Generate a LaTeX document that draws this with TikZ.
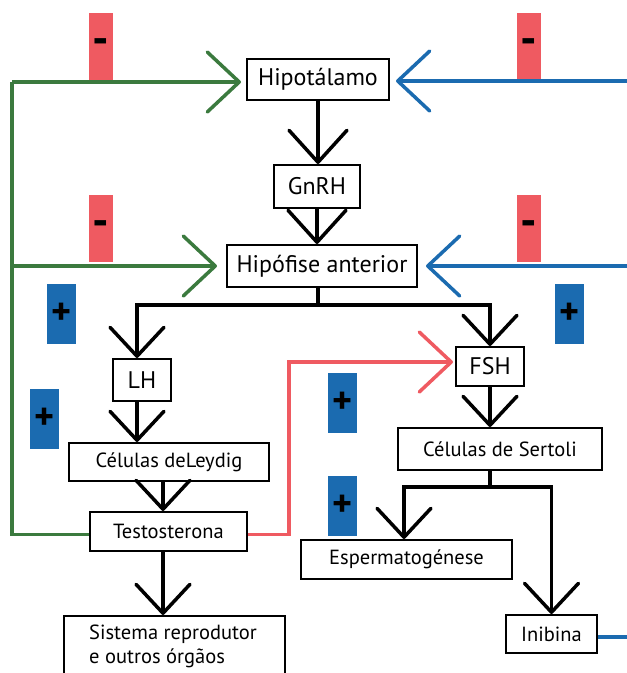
\documentclass[tikz,border=0pt]{standalone}
\usepackage{fontspec}
\setmainfont{PT Sans}
\usetikzlibrary{arrows.meta,positioning}

\definecolor{fbred}{HTML}{EF5A61}
\definecolor{fbblue}{HTML}{1B6BB0}
\definecolor{fbgreen}{HTML}{3B7A3E}

\tikzset{
  box/.style={draw, line width=2pt, inner sep=0pt, font=\fontsize{20.5}{24}\selectfont},
  bigbox/.style={box, font=\fontsize{24}{28}\selectfont},
  flow/.style={line width=3.5pt, -{Straight Barb[length=29pt,width=54pt,round]}},
  bigflow/.style={line width=3.5pt, -{Straight Barb[length=32pt,width=58pt,round]}},
  feedback/.style={line width=3.5pt, -{Straight Barb[length=32pt,width=60pt,round]}},
  minusbox/.style={fill=fbred, minimum width=24pt, minimum height=67pt, inner sep=0pt, font=\fontsize{46}{46}\selectfont\bfseries},
  plusbox/.style={fill=fbblue, minimum width=29pt, minimum height=60pt, inner sep=0pt, font=\fontsize{38}{38}\selectfont\bfseries}
}

\begin{document}
\begin{tikzpicture}[x=1pt,y=-1pt]

\clip (0,0) rectangle (627,673);

% signs
\foreach \x/\y [count=\i] in {101/46.5, 101/228.5, 529/46.5, 529/228.5}
    \node[minusbox] (minus\i) at (\x,\y) {-};
\foreach \x/\y [count=\i] in {61.5/314, 569.5/314, 44.5/418.5, 342.5/403, 342.5/506}
    \node[plusbox] (plus\i) at (\x,\y) {+};

% boxes
\node[bigbox, minimum width=142pt, minimum height=41pt] (hipo) at (318,79.5) {Hipotálamo};
\node[bigbox, minimum width=86pt, minimum height=43pt] (gnrh) at (317,186.5) {GnRH};
\node[bigbox, minimum width=190pt, minimum height=42pt] (hipof) at (322,266) {Hipófise anterior};
\node[bigbox, minimum width=58pt, minimum height=42pt] (lh) at (142,380) {LH};
\node[bigbox, minimum width=68pt, minimum height=39pt] (fsh) at (490,366.5) {FSH};
\node[box, minimum width=200pt, minimum height=38pt] (leydig) at (169,462) {Células deLeydig};
\node[box, minimum width=204pt, minimum height=42pt] (sertoli) at (500,449) {Células de Sertoli};
\node[box, minimum width=157pt, minimum height=39pt] (testo) at (168.5,531.5) {Testosterona};
\node[box, minimum width=211pt, minimum height=39pt] (esperm) at (406.5,559.5) {Espermatogénese};
\node[box, minimum width=91pt, minimum height=38pt] (inib) at (551.5,634) {Inibina};
\node[box, anchor=north, minimum width=221pt, minimum height=80pt] (sistema) at (174.5,615) {};
\node[below right=10pt and 26pt of sistema.north west, align=left, inner sep=0pt,
      font=\fontsize{20.5}{24}\selectfont] (sistemaText) {Sistema reprodutor\\e outros órgãos};

% black arrows
\coordinate (hsplit) at (318,305);
\coordinate (ssplit) at (490,487);
\draw[bigflow] (hipo.south) -- (hipo.south |- gnrh.north);
\draw[bigflow] (gnrh.south) -- (gnrh.south |- hipof.north);
\draw[flow] (hsplit |- hipof.south) -- (hsplit) -| ([xshift=-5pt]lh.north);
\draw[flow] (hsplit |- hipof.south) -- (hsplit) -| (fsh.north);
\draw[flow] ([xshift=-5pt]lh.south) -- ([xshift=-5pt]lh.south |- leydig.north);
\draw[flow] ([xshift=-6pt]leydig.south) -- ([xshift=-6pt]leydig.south |- testo.north);
\draw[flow] ([xshift=-5.5pt]testo.south) -- ([xshift=-5.5pt]testo.south |- sistema.north);
\draw[flow] (fsh.south) -- (fsh.south |- sertoli.north);
\draw[flow] (ssplit |- sertoli.south) -- (ssplit) -| ([xshift=-2.5pt]esperm.north);
\draw[flow] (ssplit |- sertoli.south) -- (ssplit) -| (inib.north);

% feedback
\coordinate (gtop) at (12,82);
\coordinate (gmid) at (12,266);
\coordinate (btop) at (627,81);
\coordinate (bmid) at (627,266);
\coordinate (rcorner) at (289,362);
\draw[fbgreen, line width=3.5pt] ([yshift=-3pt]testo.west) -| (gtop);
\draw[fbgreen, feedback, shorten >=5pt] (gtop) -- (gtop -| hipo.west);
\draw[fbgreen, feedback, shorten >=9pt] (gmid) -- (gmid -| hipof.west);
\draw[fbblue, feedback, shorten >=6pt] (btop) -- (btop -| hipo.east);
\draw[fbblue, feedback, shorten >=8pt] (bmid) -- (bmid -| hipof.east);
\draw[fbblue, line width=3.5pt] ([yshift=-3pt]inib.east) -- ([yshift=-3pt]inib.east -| bmid);
\draw[fbred, feedback, shorten >=2pt] ([yshift=-3pt]testo.east) -| (rcorner) -- (rcorner -| fsh.west);

\end{tikzpicture}
\end{document}
